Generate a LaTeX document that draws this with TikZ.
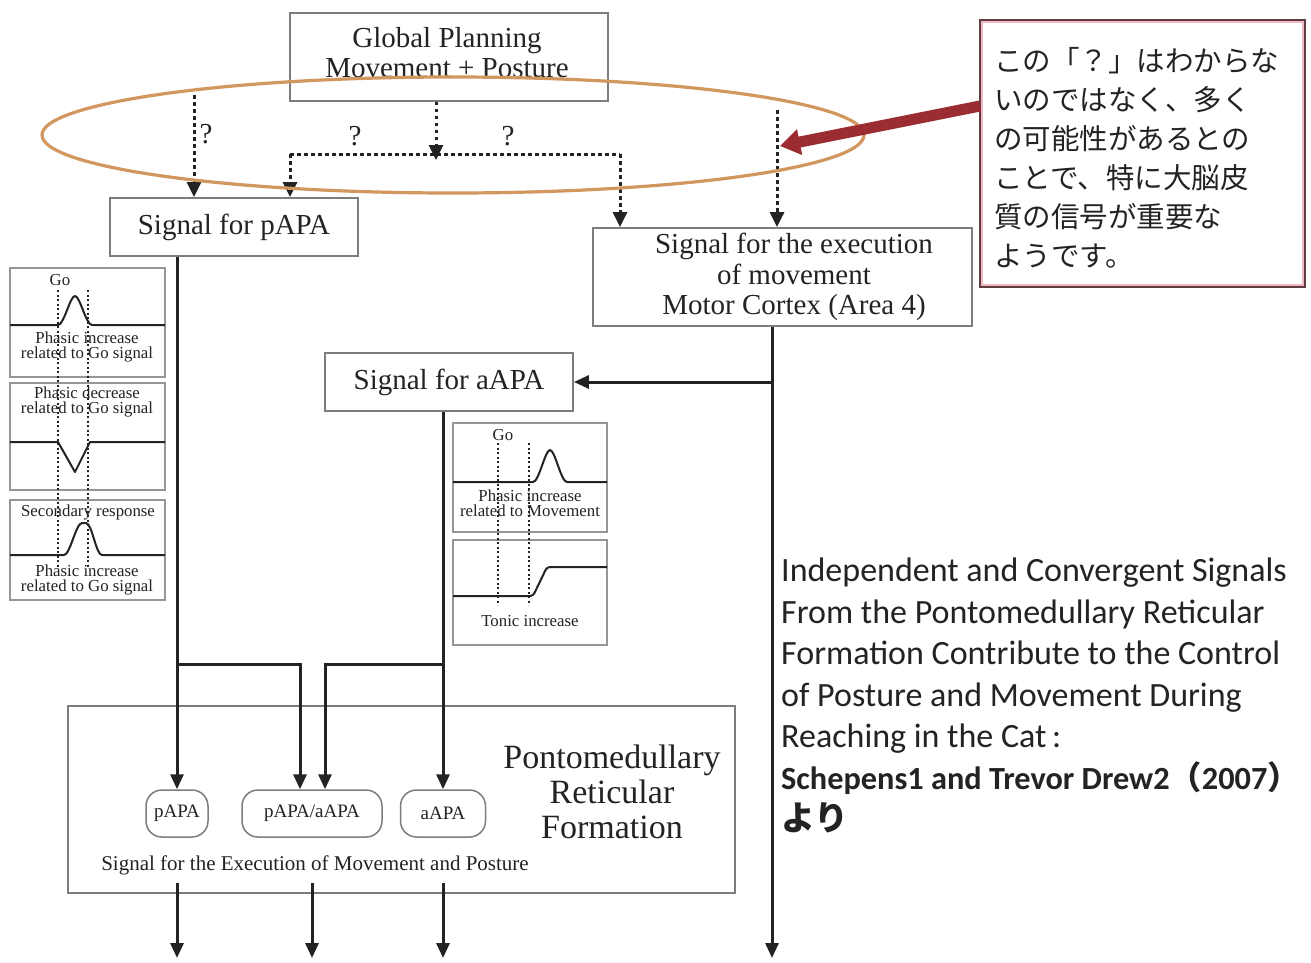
\documentclass[tikz,border=0pt]{standalone}
\usepackage{fontspec}
\setmainfont{Liberation Serif}
\newfontfamily\cjk{Noto Sans CJK JP}
\newfontfamily\calfont{Carlito}
\usetikzlibrary{arrows.meta,calc}
\definecolor{ink}{RGB}{35,35,35}
\definecolor{boxgray}{RGB}{125,125,125}
\definecolor{panelgray}{RGB}{150,150,150}
\definecolor{ellcol}{RGB}{210,150,95}
\definecolor{redarrow}{RGB}{155,45,50}
\definecolor{noteborder}{RGB}{95,60,65}
\definecolor{notepink}{RGB}{238,185,195}
\begin{document}
\begin{tikzpicture}[x=1pt,y=-1pt,
  sbox/.style={draw=boxgray, line width=1.8pt, fill=white, inner sep=0pt, align=center,
    font=\fontsize{29}{30}\selectfont, text=ink},
  oval/.style={draw=boxgray, line width=1.5pt, rounded corners=16pt, inner sep=0pt,
    font=\fontsize{19}{20}\selectfont, text=ink, minimum height=47pt},
  conn/.style={draw=ink, line width=3pt, -{Triangle[length=15pt,width=13pt]}},
  dotc/.style={draw=ink, line width=3pt, dash pattern=on 3.5pt off 3.5pt},
  dotarr/.style={dotc, -{Triangle[length=15pt,width=14pt]}},
  panel/.style={draw=panelgray, line width=1.2pt},
  curve/.style={draw=ink, line width=2pt, line join=round},
  vdot/.style={draw=ink, line width=2pt, dash pattern=on 2pt off 2.5pt},
  small/.style={font=\fontsize{16.8}{15}\selectfont, text=ink, inner sep=0pt, align=center},
  qmark/.style={font=\fontsize{29}{30}\selectfont, text=ink, inner sep=0pt}
]
\useasboundingbox (0,0) rectangle (1311,962);
\fill[white] (0,0) rectangle (1311,962);

% ---------- boxes ----------
\node[sbox, minimum width=318pt, minimum height=88pt] (gp) at (449,57) {};
\node[align=center, inner sep=0pt, font=\fontsize{29}{30}\selectfont, text=ink] (gptext) at (447,53)
  {Global Planning\\Movement + Posture};
\node[sbox, minimum width=248pt, minimum height=58pt] (papa) at (234,227) {Signal for pAPA};
\node[sbox, minimum width=379pt, minimum height=98pt] (exec) at (782.5,277) {};
\node[align=center, inner sep=0pt, font=\fontsize{29}{30.5}\selectfont, text=ink] (exectext) at (794,277)
  {Signal for the execution\\of movement\\Motor Cortex (Area 4)};
\node[sbox, minimum width=248pt, minimum height=58pt] (aapa) at (449,382) {Signal for aAPA};
\node[draw=boxgray, line width=1.5pt, minimum width=667pt, minimum height=187pt, inner sep=0pt] (prf) at (401.5,799.5) {};
\node[oval, minimum width=62pt] (o1) at (177,813.5) {pAPA};
\node[oval, minimum width=140pt] (o2) at (312,813.5) {pAPA/aAPA};
\node[oval, minimum width=85pt] (o3) at (443,813.5) {aAPA};
\node[align=center, inner sep=0pt, font=\fontsize{34}{35}\selectfont, text=ink] (prftext) at (612,792)
  {Pontomedullary\\Reticular\\Formation};
\node[inner sep=0pt, font=\fontsize{21}{22}\selectfont, text=ink] (exectxt2) at (315,865)
  {Signal for the Execution of Movement and Posture};

% ---------- dotted connectors ----------
\coordinate (qtop) at (194,95);
\coordinate (hub) at (436,160);
\coordinate (hl) at (290,154);
\coordinate (hr) at (620,154);
\coordinate (qr) at (777,110);
\draw[dotarr] (qtop) -- (qtop |- papa.north);
\draw[dotarr] (gp.south -| hub) -- (hub);
\draw[dotc] (hl) -- (hr);
\draw[dotarr] (hl) -- (hl |- papa.north);
\draw[dotarr] (hr) -- (hr |- exec.north);
\draw[dotarr] (qr) -- (qr |- exec.north);
\node[qmark] (q1) at (206,134) {?};
\node[qmark] (q2) at (355,136) {?};
\node[qmark] (q3) at (508,136) {?};

% ---------- solid connectors ----------
\coordinate (jy) at (0,664);
\coordinate (trunk) at (772,958);
\coordinate (bt) at (0,883);
\coordinate (bb) at (0,958);
\draw[conn] (papa.south -| o1.north) -- (o1.north);
\draw[conn] (o1.north |- jy) -| ($(o2.north)+(-12,0)$);
\draw[conn] (aapa.south -| o3.north) -- (o3.north);
\draw[conn] (o3.north |- jy) -| ($(o2.north)+(13,0)$);
\draw[conn] (exec.south -| trunk) -- (trunk);
\draw[conn] (trunk |- aapa.east) -- (aapa.east);
\draw[conn] (o1.south |- bt) -- (o1.south |- bb);
\draw[conn] (o2.south |- bt) -- (o2.south |- bb);
\draw[conn] (o3.south |- bt) -- (o3.south |- bb);

% ---------- left response panels ----------
\draw[panel] (10,268) rectangle (165,377);
\draw[panel] (10,383) rectangle (165,490);
\draw[panel] (10,500) rectangle (165,600);
\draw[curve] (10,325) -- (58,325) .. controls (64,325) and (70,296) .. (75,296)
  .. controls (80,296) and (86,325) .. (92,325) -- (165,325);
\draw[curve] (10,442) -- (58,442) -- (75,472) -- (90,442) -- (165,442);
\draw[curve] (10,555) -- (64,555) .. controls (70,555) and (76,523) .. (82,523) -- (86,523)
  .. controls (92,523) and (96,555) .. (102,555) -- (165,555);
\draw[vdot] (58,290) -- (58,568);
\draw[vdot] (88,290) -- (88,568);
\node[small] (go1) at (60,280) {Go};
\node[small] (l1) at (87,347) {Phasic increase\\related to Go signal};
\node[small] (l2) at (87,402) {Phasic decrease\\related to Go signal};
\node[small] (l3a) at (88,512) {Secondary response};
\node[small] (l3) at (87,580) {Phasic increase\\related to Go signal};

% ---------- middle response panels ----------
\draw[panel] (453,423) rectangle (607,532);
\draw[panel] (453,540) rectangle (607,645);
\draw[curve] (453,482) -- (533,482) .. controls (539,482) and (545,450) .. (550,450)
  .. controls (555,450) and (561,482) .. (567,482) -- (607,482);
\draw[curve, rounded corners=3pt] (453,596) -- (533,596) -- (547,567) -- (607,567);
\draw[vdot] (498,443) -- (498,605);
\draw[vdot] (529,443) -- (529,605);
\node[small] (go2) at (503,435) {Go};
\node[small] (l4) at (530,503) {Phasic increase\\related to Movement};
\node[small] (l5a) at (530,621) {Tonic increase};

% ---------- ellipse ----------
\draw[ellcol, line width=3.2pt] (453,135) ellipse [x radius=411pt, y radius=58pt];

% ---------- note ----------
\node[draw=notepink, line width=3pt, fill=white, minimum width=322pt, minimum height=264pt, inner sep=0pt] (note) at (1142.5,153.5) {};
\draw[noteborder, line width=2.2pt] (note.north west) rectangle (note.south east);
\node[anchor=north west, align=left, inner sep=0pt, text=ink,
  font=\cjk\fontsize{28.5}{39}\selectfont] (notetext) at (994,47)
  {この「？」はわからな\\いのではなく、多く\\の可能性があるとの\\ことで、特に大脳皮\\質の信号が重要な\\ようです。};
\path (note.north west) ++(0,86) coordinate (rs);
\coordinate (rt) at (780,146);
\draw[redarrow, line width=11pt, -{Triangle[length=20pt,width=25pt]}] (rs) -- (rt);

% ---------- citation ----------
\node[anchor=north west, align=left, inner sep=0pt, text=ink,
  font=\calfont\fontsize{34}{41.5}\selectfont] (cite) at (781,558)
  {Independent and Convergent Signals\\From the Pontomedullary Reticular\\Formation Contribute to the Control\\of Posture and Movement During\\Reaching in the Cat\,:\\
   {\fontsize{32.3}{41.5}\selectfont\bfseries Schepens1 and Trevor Drew2{\cjk （}2007{\cjk ）}}\\{\cjk\bfseries より}};
\end{tikzpicture}
\end{document}
